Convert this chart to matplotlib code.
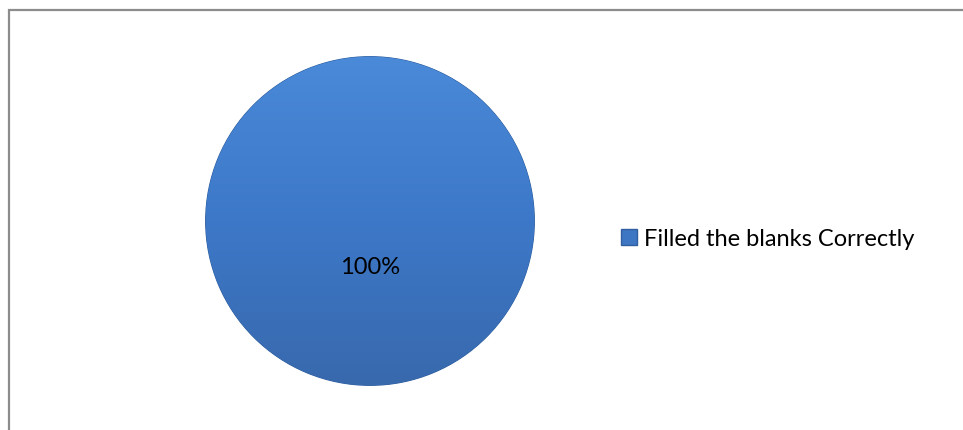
"""Pie chart: share of students who filled the blanks correctly."""

import matplotlib.pyplot as plt
import numpy as np
from matplotlib.colors import LinearSegmentedColormap
from matplotlib.patches import Rectangle

plt.rcParams["font.family"] = ["Lato", "DejaVu Sans"]

categories = ["Filled the blanks Correctly"]
shares = [100]

fig = plt.figure(figsize=(9.63, 4.30), dpi=100)

# grey chart-area frame, open at the right and bottom
fig.add_artist(Rectangle((8.5 / 963, -0.1), 1.2, 420 / 430 + 0.1,
                         transform=fig.transFigure, fill=False,
                         edgecolor="#8c8c8c", linewidth=1.6))

ax = fig.add_axes([(370 - 166) / 963, (430 - 387) / 430, 332 / 963, 332 / 430])
wedges, texts, autotexts = ax.pie(
    shares,
    startangle=90,
    counterclock=False,
    colors=["#3f7acb"],
    autopct="%d%%",
    pctdistance=0.285,
    wedgeprops=dict(edgecolor="#2f5f9e", linewidth=0.8),
    textprops=dict(fontsize=17, color="black"),
)
ax.set_aspect("equal")
ax.set_xlim(-1.01, 1.01)
ax.set_ylim(-1.01, 1.01)

# vertical shading over the wedge, lighter on top
shade = LinearSegmentedColormap.from_list("shade", ["#3869ad", "#3d78c8", "#4a8ad8"])
grad = np.linspace(0, 1, 256).reshape(-1, 1)
img = ax.imshow(grad, cmap=shade, extent=(-1, 1, -1, 1), origin="lower",
                aspect="auto", zorder=wedges[0].get_zorder() + 0.1)
img.set_clip_path(wedges[0])
for t in autotexts:
    t.set_zorder(5)

handle = Rectangle((0, 0), 1, 1, facecolor="#3d76c2", edgecolor="#2f5f9e")
fig.legend([handle], categories, loc="center left",
           bbox_to_anchor=(621 / 963, 1 - 239 / 430), frameon=False,
           borderpad=0, borderaxespad=0,
           fontsize=17, handlelength=0.68, handleheight=0.68,
           handletextpad=0.3)

fig.savefig("out.png", dpi=100)
